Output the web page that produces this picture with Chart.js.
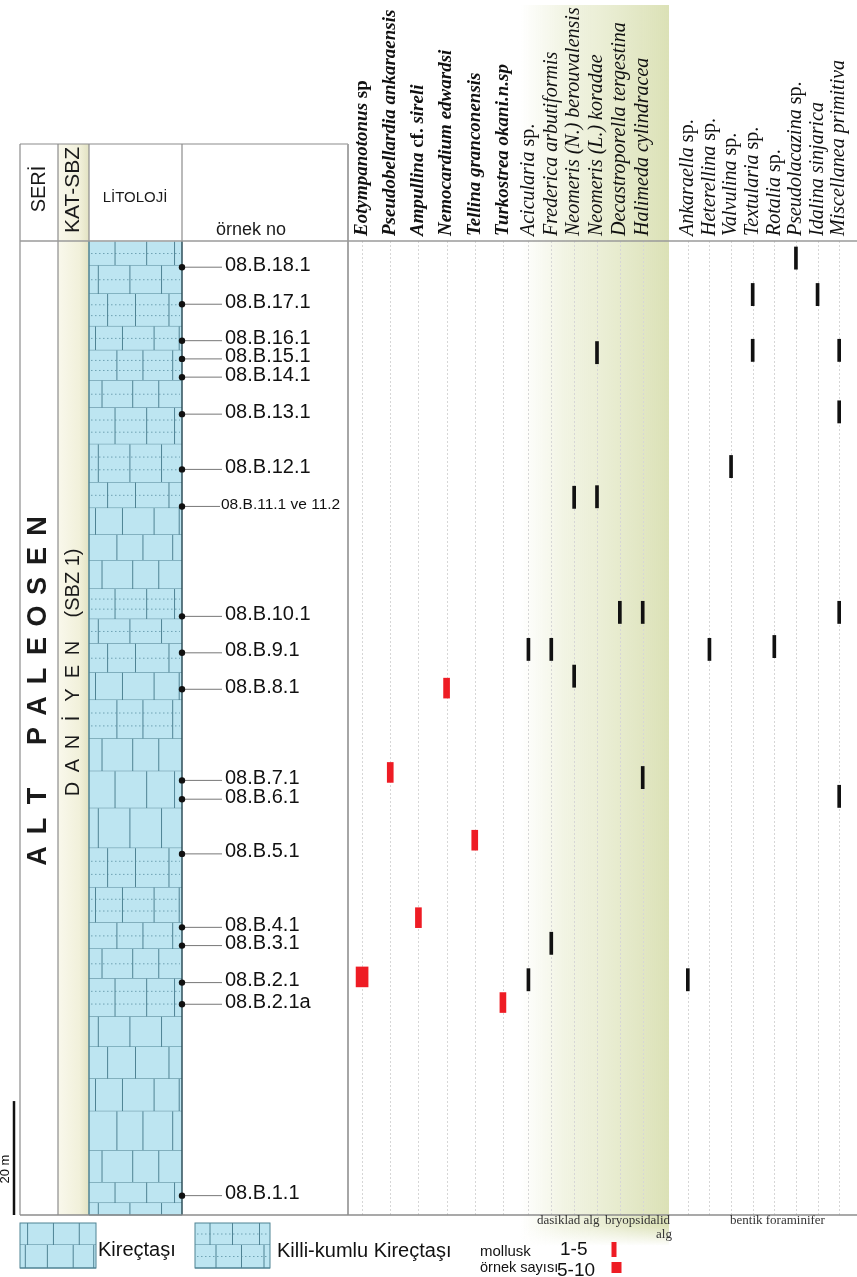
<!DOCTYPE html>
<html>
<head>
<meta charset="utf-8">
<script src="https://cdn.jsdelivr.net/npm/chart.js@4.4.1/dist/chart.umd.min.js"></script>
<style>
  html, body { margin: 0; padding: 0; background: #fff; }
  canvas { display: block; }
</style>
</head>
<body>
<canvas id="chart" width="857" height="1277"></canvas>
<script>
// --- Data ----------------------------------------------------------------

const molluskTaxa = ["Eotympanotonus sp", "Pseudobellardia ankaraensis", "Ampullina cf. sireli",
  "Nemocardium edwardsi", "Tellina granconensis", "Turkostrea okani.n.sp"];
const algaeTaxa = ["Acicularia sp.", "Frederica arbutiformis", "Neomeris (N.) berouvalensis",
  "Neomeris (L.) koradae", "Decastroporella tergestina", "Halimeda cylindracea"];
const foramTaxa = ["Ankaraella sp.", "Heterellina sp.", "Valvulina sp.", "Textularia sp.",
  "Rotalia sp.", "Pseudolacazina sp.", "Idalina sinjarica", "Miscellanea primitiva"];

// sample levels, metres above the base of the section
const sampleNames = ["08.B.18.1", "08.B.17.1", "08.B.16.1", "08.B.15.1", "08.B.14.1", "08.B.13.1",
  "08.B.12.1", "08.B.11.1 ve 11.2", "08.B.10.1", "08.B.9.1", "08.B.8.1", "08.B.7.1", "08.B.6.1",
  "08.B.5.1", "08.B.4.1", "08.B.3.1", "08.B.2.1", "08.B.2.1a", "08.B.1.1"];
const sampleLevels = [166.4, 159.9, 153.5, 150.3, 147.1, 140.6, 130.9, 124.4, 105.1, 98.7, 92.3,
  76.3, 73.0, 63.4, 50.5, 47.3, 40.8, 37.0, 3.4];

// lithology: bed boundaries (m, top -> base) and type of each bed
const bedBounds = [170.9, 166.7, 161.7, 156.0, 151.8, 146.5, 141.7, 135.3, 128.6, 124.1, 119.4,
  114.9, 109.9, 104.6, 100.3, 95.2, 90.4, 83.6, 77.9, 71.4, 64.4, 57.5, 51.3, 46.7, 41.5, 34.8,
  29.5, 23.9, 18.2, 11.3, 5.7, 2.1, 0];
const bedTypes = ["KK", "KK", "KK", "KK", "KK", "KK", "KK", "KK", "KK", "K", "K", "K", "KK", "KK",
  "KK", "K", "KK", "K", "K", "K", "KK", "KK", "KK", "KK", "KK", "K", "K", "K", "K", "K", "K", "K"];

// occurrences: [taxon, level (m)]
const foramOccurrences = [
  ["Pseudolacazina sp.", 168.0], ["Textularia sp.", 161.6], ["Idalina sinjarica", 161.6],
  ["Textularia sp.", 151.8], ["Miscellanea primitiva", 151.8], ["Miscellanea primitiva", 141.0],
  ["Valvulina sp.", 131.4], ["Miscellanea primitiva", 105.8], ["Heterellina sp.", 99.3],
  ["Rotalia sp.", 99.8], ["Miscellanea primitiva", 73.5], ["Ankaraella sp.", 41.3],
];
const algaeOccurrences = [
  ["Neomeris (L.) koradae", 151.4], ["Neomeris (N.) berouvalensis", 126.0],
  ["Neomeris (L.) koradae", 126.1], ["Decastroporella tergestina", 105.8],
  ["Halimeda cylindracea", 105.8], ["Acicularia sp.", 99.3], ["Frederica arbutiformis", 99.3],
  ["Neomeris (N.) berouvalensis", 94.6], ["Halimeda cylindracea", 76.8],
  ["Frederica arbutiformis", 47.7], ["Acicularia sp.", 41.3],
];
const molluskFew = [ // 1-5 specimens
  ["Nemocardium edwardsi", 92.5], ["Pseudobellardia ankaraensis", 77.7],
  ["Tellina granconensis", 65.8], ["Ampullina cf. sireli", 52.2], ["Turkostrea okani.n.sp", 37.3],
];
const molluskMany = [ // 5-10 specimens
  ["Eotympanotonus sp", 41.8],
];

// --- Helpers -------------------------------------------------------------

const SANS = '"Liberation Sans", Arial, sans-serif';
const SERIF = '"Liberation Serif", "Times New Roman", serif';
const RED = "#ee1c24";

function ranges(occ, half) {
  return occ.map(([t, lv]) => ({ x: t, y: [lv - half, lv + half] }));
}

function line(ctx, x0, y0, x1, y1, color, width) {
  ctx.strokeStyle = color;
  ctx.lineWidth = width;
  ctx.beginPath();
  ctx.moveTo(x0, y0);
  ctx.lineTo(x1, y1);
  ctx.stroke();
}

function rotText(ctx, text, x, y, font, align = "center") {
  ctx.save();
  ctx.translate(x, y);
  ctx.rotate(-Math.PI / 2);
  ctx.font = font;
  ctx.textAlign = align;
  ctx.textBaseline = "middle";
  ctx.fillText(text, 0, 0);
  ctx.restore();
}

function drawTaxon(ctx, name, x, bold) {
  const base = `${bold ? "bold " : ""}${bold ? 19 : 20}px ${SERIF}`;
  ctx.save();
  ctx.translate(x, 236);
  ctx.rotate(-Math.PI / 2);
  ctx.textAlign = "left";
  ctx.textBaseline = "middle";
  ctx.fillStyle = "#111";
  let cx = 0;
  name.split(" ").forEach((tok, k) => {
    const upright = /^(sp\.?|cf\.)$/.test(tok);
    ctx.font = (upright ? "" : "italic ") + base;
    const t = (k ? " " : "") + tok;
    ctx.fillText(t, cx, 0);
    cx += ctx.measureText(t).width;
  });
  ctx.restore();
}

const jointPatterns = [[0.28, 0.62, 0.92], [0.1, 0.44, 0.78], [0.2, 0.5, 0.86],
  [0.07, 0.36, 0.7, 0.97], [0.3, 0.58, 0.9], [0.14, 0.47, 0.75]];

function drawBed(ctx, x0, x1, yT, yB, idx, dotted) {
  const w = x1 - x0;
  ctx.fillStyle = "#bde5f1";
  ctx.fillRect(x0, yT, w, yB - yT);
  if (dotted) {
    ctx.save();
    ctx.setLineDash([1.5, 2.5]);
    const h = yB - yT;
    const ys = h > 30 ? [yT + h / 3, yT + 2 * h / 3] : [yT + h / 2];
    ys.forEach((yy) => line(ctx, x0 + 2, yy, x1 - 2, yy, "#6fa2b3", 1));
    ctx.restore();
  }
  for (const f of jointPatterns[idx % jointPatterns.length]) {
    line(ctx, x0 + f * w, yT, x0 + f * w, yB, "#4f8394", 1);
  }
  line(ctx, x0, yB, x1, yB, "#4f8394", 1);
}

// --- Decoration plugin ---------------------------------------------------

const sectionDeco = {
  id: "sectionDeco",
  beforeDatasetsDraw(chart) {
    const { ctx, chartArea: area, scales } = chart;
    const xa = scales.xa;
    // algae band
    const bx0 = xa.getPixelForValue(0) - 8, bx1 = xa.right - 8;
    const g = ctx.createLinearGradient(bx0, 0, bx1, 0);
    g.addColorStop(0, "rgba(238,241,220,0)");
    g.addColorStop(0.3, "rgba(238,241,220,0.8)");
    g.addColorStop(1, "rgba(219,225,182,1)");
    ctx.fillStyle = g;
    ctx.fillRect(bx0, 5, bx1 - bx0, 1240);
    const f = ctx.createLinearGradient(0, 1226, 0, 1246);
    f.addColorStop(0, "rgba(255,255,255,0)");
    f.addColorStop(1, "rgba(255,255,255,1)");
    ctx.fillStyle = f;
    ctx.fillRect(bx0, 1226, bx1 - bx0, 21);

    // dotted column lines
    ctx.save();
    ctx.setLineDash([2, 2]);
    for (const id of ["xm", "xa", "xf"]) {
      const sc = scales[id];
      sc.getLabels().forEach((lab, i) => {
        if (!lab) return;
        const x = Math.round(sc.getPixelForValue(i)) + 0.5;
        line(ctx, x, area.top, x, area.bottom, "#d6d6d6", 1);
      });
    }
    ctx.restore();
  },

  afterDraw(chart) {
    const { ctx, chartArea: area, scales } = chart;
    const y = scales.y;
    const top = area.top, bot = area.bottom;
    ctx.save();

    // KAT-SBZ column tint
    const kg = ctx.createLinearGradient(58, 0, 89, 0);
    kg.addColorStop(0, "#f9f8ec");
    kg.addColorStop(0.7, "#f1f0da");
    kg.addColorStop(1, "#e2e2c2");
    ctx.fillStyle = kg;
    ctx.fillRect(58, 144, 31, bot - 144);

    // lithology column
    for (let i = 0; i < bedTypes.length; i++) {
      const yT = y.getPixelForValue(bedBounds[i]);
      const yB = y.getPixelForValue(bedBounds[i + 1]);
      drawBed(ctx, 89, 182, yT, yB, i, bedTypes[i] === "KK");
    }
    line(ctx, 89, top, 89, bot, "#4f8394", 1.5);
    line(ctx, 182, top, 182, bot, "#2f4f5a", 1.5);

    // frame
    line(ctx, 20, 144, 348, 144, "#8c8c8c", 1.2);
    line(ctx, 20, 144, 20, bot, "#8c8c8c", 1.2);
    line(ctx, 58, 144, 58, bot, "#8c8c8c", 1.2);
    line(ctx, 89, 144, 89, top, "#8c8c8c", 1.2);
    line(ctx, 182, 144, 182, top, "#8c8c8c", 1.2);
    line(ctx, 348, 144, 348, bot, "#a6a6a6", 2);
    line(ctx, 20, top, 857, top, "#9a9a9a", 1.5);
    line(ctx, 20, bot, 857, bot, "#8c8c8c", 1.5);

    // header texts
    ctx.fillStyle = "#1a1a1a";
    rotText(ctx, "SERİ", 39, 189, `20px ${SANS}`);
    rotText(ctx, "KAT-SBZ", 73, 190, `21px ${SANS}`);
    ctx.font = `15px ${SANS}`;
    ctx.textAlign = "center";
    ctx.textBaseline = "middle";
    ctx.fillText("LİTOLOJİ", 135, 198);
    ctx.font = `18px ${SANS}`;
    ctx.textAlign = "left";
    ctx.fillText("örnek no", 216, 230);

    // series / stage
    const series = "ALT PALEOSEN";
    for (let i = 0; i < series.length; i++) {
      rotText(ctx, series[i], 39, 856 - i * 30, `bold 27px ${SANS}`);
    }
    const stage = "DANİYEN";
    for (let i = 0; i < stage.length; i++) {
      rotText(ctx, stage[i], 73, 789 - i * 23.5, `20px ${SANS}`);
    }
    rotText(ctx, "(SBZ 1)", 73, 583, `20px ${SANS}`);

    // samples
    sampleNames.forEach((name, i) => {
      const py = y.getPixelForValue(sampleLevels[i]);
      const small = name.length > 10;
      line(ctx, 182, py, small ? 220 : 222, py, "#777", 1);
      ctx.fillStyle = "#111";
      ctx.beginPath();
      ctx.arc(182, py, 3.2, 0, Math.PI * 2);
      ctx.fill();
      ctx.font = `${small ? 15.5 : 20}px ${SANS}`;
      ctx.textAlign = "left";
      ctx.textBaseline = "middle";
      ctx.fillText(name, small ? 221 : 225, py - 2);
    });

    // scale bar
    line(ctx, 14, y.getPixelForValue(20), 14, bot, "#111", 2.5);
    ctx.fillStyle = "#111";
    rotText(ctx, "20 m", 5, 1169, `13px ${SANS}`);

    // taxon headers
    scales.xm.getLabels().forEach((t, i) => drawTaxon(ctx, t, scales.xm.getPixelForValue(i), true));
    scales.xa.getLabels().forEach((t, i) => t && drawTaxon(ctx, t, scales.xa.getPixelForValue(i), false));
    scales.xf.getLabels().forEach((t, i) => drawTaxon(ctx, t, scales.xf.getPixelForValue(i), false));

    // group captions
    ctx.fillStyle = "#333";
    ctx.font = `13px ${SERIF}`;
    ctx.textAlign = "left";
    ctx.textBaseline = "middle";
    ctx.fillText("dasiklad alg", 537, 1221);
    ctx.fillText("bryopsidalid", 605, 1221);
    ctx.fillText("alg", 656, 1235);
    ctx.fillText("bentik foraminifer", 730, 1221);

    // legend: lithology swatches
    drawBed(ctx, 20, 96, 1223, 1245, 1, false);
    drawBed(ctx, 20, 96, 1245, 1268, 3, false);
    ctx.strokeStyle = "#4f8394";
    ctx.lineWidth = 1;
    ctx.strokeRect(20, 1223, 76, 45);
    drawBed(ctx, 195, 270, 1223, 1245, 2, true);
    drawBed(ctx, 195, 270, 1245, 1268, 0, true);
    ctx.strokeRect(195, 1223, 75, 45);
    ctx.fillStyle = "#111";
    ctx.font = `20px ${SANS}`;
    ctx.textBaseline = "middle";
    ctx.fillText("Kireçtaşı", 98, 1250);
    ctx.fillText("Killi-kumlu Kireçtaşı", 277, 1251);

    // legend: mollusc counts
    ctx.font = `15px ${SANS}`;
    ctx.fillText("mollusk", 480, 1252);
    ctx.font = `14.5px ${SANS}`;
    ctx.fillText("örnek sayısı", 480, 1268);
    ctx.font = `19px ${SANS}`;
    ctx.fillText("1-5", 560, 1250);
    ctx.fillText("5-10", 557, 1271);
    ctx.fillStyle = RED;
    ctx.fillRect(611.5, 1242, 5, 15);
    ctx.fillRect(611.5, 1262, 10, 11);

    ctx.restore();
  },
};

// --- Chart ---------------------------------------------------------------

new Chart(document.getElementById("chart"), {
  type: "bar",
  data: {
    datasets: [
      { data: ranges(algaeOccurrences, 1.95), xAxisID: "xa", backgroundColor: "#111", barThickness: 3 },
      { data: ranges(foramOccurrences, 1.95), xAxisID: "xf", backgroundColor: "#111", barThickness: 3 },
      { data: ranges(molluskFew, 1.75), xAxisID: "xm", backgroundColor: RED, barThickness: 6 },
      { data: ranges(molluskMany, 1.75), xAxisID: "xm", backgroundColor: RED, barThickness: 12 },
    ],
  },
  options: {
    responsive: false,
    animation: false,
    devicePixelRatio: 1,
    grouped: false,
    layout: { padding: { left: 348, top: 241, right: 7, bottom: 62 } },
    plugins: { legend: { display: false }, tooltip: { enabled: false } },
    scales: {
      y: { type: "linear", min: 0, max: 171, display: false },
      xm: { type: "category", axis: "x", labels: molluskTaxa, position: "bottom",
        stack: "taxa", stackWeight: 169, offset: true, display: false },
      xa: { type: "category", axis: "x", labels: [...algaeTaxa, ""], position: "bottom",
        stack: "taxa", stackWeight: 160, offset: true, display: false },
      xf: { type: "category", axis: "x", labels: foramTaxa, position: "bottom",
        stack: "taxa", stackWeight: 173, offset: true, display: false },
    },
  },
  plugins: [sectionDeco],
});
</script>
</body>
</html>
